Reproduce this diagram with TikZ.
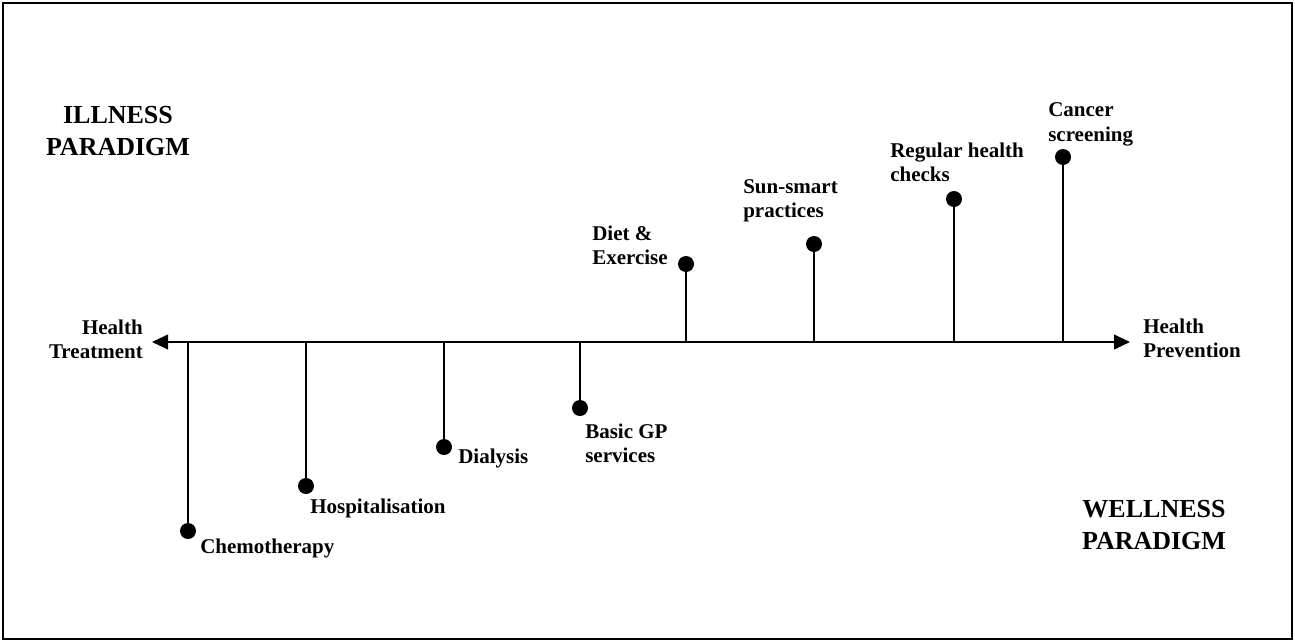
\documentclass[tikz,border=0pt]{standalone}
\usepackage{fontspec}
\setmainfont{Liberation Serif}
\usetikzlibrary{arrows.meta}
\tikzset{
  lbl/.style={inner sep=0pt, font=\bfseries\fontsize{15.75}{18}\selectfont},
  big/.style={inner sep=0pt, font=\bfseries\fontsize{19.5}{24}\selectfont},
  dot/.style={circle, fill=black, inner sep=0pt, minimum size=12pt},
  stem/.style={line width=1.5pt},
  axis/.style={line width=1.5pt, {Triangle[length=12pt,width=11pt]}-{Triangle[length=12pt,width=11pt]}},
}
\begin{document}
\begin{tikzpicture}[x=0.75pt,y=-0.75pt]
\useasboundingbox (0,0) rectangle (1295,642);
\draw[line width=2pt] (3,3) rectangle (1292,639);
% axis
\coordinate (L) at (152,342);
\coordinate (R) at (1130,342);
\draw[axis] (L) -- (R);
% axis points
\coordinate (a1) at (188,342);
\coordinate (a2) at (306,342);
\coordinate (a3) at (444,342);
\coordinate (a4) at (580,342);
\coordinate (a5) at (686,342);
\coordinate (a6) at (814,342);
\coordinate (a7) at (954,342);
\coordinate (a8) at (1063,342);
% dots
\node[dot] (d1) at (188,531) {};
\node[dot] (d2) at (306,486) {};
\node[dot] (d3) at (444,447) {};
\node[dot] (d4) at (580,408) {};
\node[dot] (d5) at (686,264) {};
\node[dot] (d6) at (814,244) {};
\node[dot] (d7) at (954,199) {};
\node[dot] (d8) at (1063,157) {};
\foreach \i in {1,...,8} \draw[stem] (a\i) -- (d\i.center);
% labels
\node[big, anchor=base] (ill) at (118,123) {\begin{tabular}[t]{@{}c@{}}ILLNESS\\PARADIGM\end{tabular}};
\node[big, anchor=base] (well) at (1154,517) {\begin{tabular}[t]{@{}c@{}}WELLNESS\\PARADIGM\end{tabular}};
\node[lbl, anchor=base east] (ht) at (143,334) {\begin{tabular}[t]{@{}r@{}}Health\\Treatment\end{tabular}};
\node[lbl, anchor=base west] (hp) at (1143,333) {\begin{tabular}[t]{@{}l@{}}Health\\Prevention\end{tabular}};
\node[lbl, anchor=base west] (l1) at (200,553) {Chemotherapy};
\node[lbl, anchor=base west] (l2) at (310,513) {Hospitalisation};
\node[lbl, anchor=base west] (l3) at (458,463) {Dialysis};
\node[lbl, anchor=base west] (l4) at (585,438) {\begin{tabular}[t]{@{}l@{}}Basic GP\\services\end{tabular}};
\node[lbl, anchor=base west] (l5) at (592,240) {\begin{tabular}[t]{@{}l@{}}Diet \&\\Exercise\end{tabular}};
\node[lbl, anchor=base west] (l6) at (743,193) {\begin{tabular}[t]{@{}l@{}}Sun-smart\\practices\end{tabular}};
\node[lbl, anchor=base west] (l7) at (890,157) {\begin{tabular}[t]{@{}l@{}}Regular health\\checks\end{tabular}};
\node[lbl, anchor=base west] (l8) at (1048,117) {\begin{tabular}[t]{@{}l@{}}Cancer\\screening\end{tabular}};
\end{tikzpicture}
\end{document}
